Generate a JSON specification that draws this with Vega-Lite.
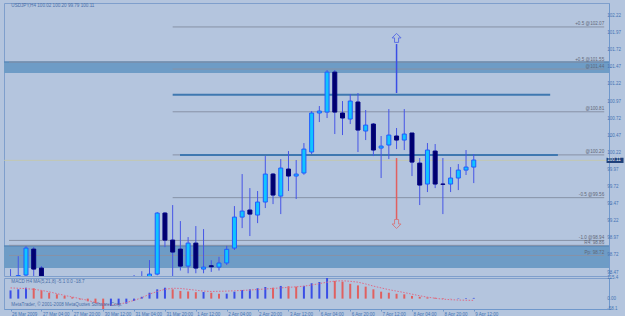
{
  "$schema": "https://vega.github.io/schema/vega-lite/v6.json",
  "background": "#b4c5de",
  "padding": {"left": 2, "top": 2, "right": 0, "bottom": 0},
  "spacing": 2,
  "bounds": "flush",
  "config": {
    "font": "Liberation Sans",
    "view": {"stroke": "#7f9fcc", "strokeWidth": 1},
    "axis": {"labelFont": "Liberation Sans", "labelFontSize": 4.5, "labelColor": "#4474b4", "domainColor": "#6f98cc", "tickColor": "#6f98cc", "grid": false, "title": null, "labelOverlap": false, "labelBound": false}
  },
  "datasets": {
    "candles": [
      {"i": 0, "o": 98.41, "h": 98.52, "l": 98.38, "c": 98.40},
      {"i": 1, "o": 98.42, "h": 98.71, "l": 98.39, "c": 98.425},
      {"i": 2, "o": 98.434, "h": 98.857, "l": 98.42, "c": 98.828},
      {"i": 3, "o": 98.813, "h": 98.842, "l": 98.40, "c": 98.521},
      {"i": 4, "o": 98.536, "h": 98.565, "l": 98.38, "c": 98.40},
      {"i": 16, "o": 98.30, "h": 98.434, "l": 98.2, "c": 98.32},
      {"i": 17, "o": 98.35, "h": 98.49, "l": 98.25, "c": 98.38},
      {"i": 18, "o": 98.38, "h": 98.653, "l": 98.33, "c": 98.448},
      {"i": 19, "o": 98.448, "h": 99.354, "l": 98.43, "c": 99.34},
      {"i": 20, "o": 99.34, "h": 99.354, "l": 98.842, "c": 98.945},
      {"i": 21, "o": 98.945, "h": 99.457, "l": 98.40, "c": 98.77},
      {"i": 22, "o": 98.813, "h": 99.223, "l": 98.50, "c": 98.565},
      {"i": 23, "o": 98.565, "h": 98.989, "l": 98.46, "c": 98.901},
      {"i": 24, "o": 98.901, "h": 99.15, "l": 98.46, "c": 98.536},
      {"i": 25, "o": 98.521, "h": 99.106, "l": 98.46, "c": 98.55},
      {"i": 26, "o": 98.57, "h": 98.65, "l": 98.48, "c": 98.555},
      {"i": 27, "o": 98.55, "h": 98.70, "l": 98.50, "c": 98.61},
      {"i": 28, "o": 98.61, "h": 98.86, "l": 98.58, "c": 98.81},
      {"i": 29, "o": 98.828, "h": 99.442, "l": 98.80, "c": 99.281},
      {"i": 30, "o": 99.281, "h": 99.91, "l": 99.12, "c": 99.369},
      {"i": 31, "o": 99.384, "h": 99.705, "l": 99.004, "c": 99.325},
      {"i": 32, "o": 99.311, "h": 99.662, "l": 99.193, "c": 99.501},
      {"i": 33, "o": 99.501, "h": 100.173, "l": 99.413, "c": 99.91},
      {"i": 34, "o": 99.91, "h": 99.925, "l": 99.471, "c": 99.603},
      {"i": 35, "o": 99.588, "h": 100.129, "l": 99.325, "c": 99.998},
      {"i": 36, "o": 99.983, "h": 100.246, "l": 99.662, "c": 99.881},
      {"i": 37, "o": 99.881, "h": 100.115, "l": 99.545, "c": 99.91},
      {"i": 38, "o": 99.925, "h": 100.363, "l": 99.90, "c": 100.275},
      {"i": 39, "o": 100.232, "h": 100.83, "l": 100.202, "c": 100.802},
      {"i": 40, "o": 100.802, "h": 100.904, "l": 100.67, "c": 100.831},
      {"i": 41, "o": 100.816, "h": 101.43, "l": 100.729, "c": 101.40},
      {"i": 42, "o": 101.40, "h": 101.43, "l": 100.495, "c": 100.816},
      {"i": 43, "o": 100.802, "h": 100.977, "l": 100.48, "c": 100.729},
      {"i": 44, "o": 100.714, "h": 101.08, "l": 100.641, "c": 100.977},
      {"i": 45, "o": 100.963, "h": 101.094, "l": 100.232, "c": 100.553},
      {"i": 46, "o": 100.539, "h": 100.846, "l": 100.407, "c": 100.626},
      {"i": 47, "o": 100.641, "h": 100.656, "l": 100.173, "c": 100.261},
      {"i": 48, "o": 100.29, "h": 100.466, "l": 99.852, "c": 100.319},
      {"i": 49, "o": 100.334, "h": 100.86, "l": 100.129, "c": 100.48},
      {"i": 50, "o": 100.466, "h": 100.583, "l": 100.275, "c": 100.407},
      {"i": 51, "o": 100.407, "h": 100.86, "l": 100.261, "c": 100.495},
      {"i": 52, "o": 100.51, "h": 100.51, "l": 99.881, "c": 100.085},
      {"i": 53, "o": 100.07, "h": 100.144, "l": 99.457, "c": 99.749},
      {"i": 54, "o": 99.764, "h": 100.363, "l": 99.647, "c": 100.261},
      {"i": 55, "o": 100.246, "h": 100.349, "l": 99.705, "c": 99.764},
      {"i": 56, "o": 99.764, "h": 100.144, "l": 99.325, "c": 99.76},
      {"i": 57, "o": 99.764, "h": 100.012, "l": 99.647, "c": 99.852},
      {"i": 58, "o": 99.852, "h": 100.056, "l": 99.676, "c": 99.968},
      {"i": 59, "o": 99.968, "h": 100.261, "l": 99.896, "c": 100.012},
      {"i": 60, "o": 100.012, "h": 100.202, "l": 99.778, "c": 100.115}
    ],
    "macd": [
      {"i": 0, "m": 46, "s": 60, "dir": "up"}, {"i": 1, "m": 52, "s": 58, "dir": "up"},
      {"i": 2, "m": 61, "s": 56, "dir": "up"}, {"i": 3, "m": 58, "s": 52, "dir": "down"},
      {"i": 4, "m": 46, "s": 46, "dir": "down"}, {"i": 5, "m": 33, "s": 38, "dir": "down"},
      {"i": 6, "m": 24, "s": 28, "dir": "down"}, {"i": 7, "m": 15, "s": 18, "dir": "down"},
      {"i": 8, "m": 8, "s": 9, "dir": "down"}, {"i": 9, "m": -5, "s": 0, "dir": "down"},
      {"i": 10, "m": -15, "s": -10, "dir": "down"}, {"i": 11, "m": -25, "s": -22, "dir": "down"},
      {"i": 12, "m": -58.1, "s": -33, "dir": "down"}, {"i": 13, "m": -41, "s": -36, "dir": "up"},
      {"i": 14, "m": -36, "s": -32, "dir": "up"}, {"i": 15, "m": -28, "s": -22, "dir": "up"},
      {"i": 16, "m": -13, "s": -10, "dir": "up"}, {"i": 17, "m": 10, "s": 5, "dir": "up"},
      {"i": 18, "m": 33, "s": 25, "dir": "up"}, {"i": 19, "m": 52, "s": 40, "dir": "up"},
      {"i": 20, "m": 61, "s": 52, "dir": "up"}, {"i": 21, "m": 52, "s": 58, "dir": "down"},
      {"i": 22, "m": 43, "s": 57, "dir": "down"}, {"i": 23, "m": 40, "s": 52, "dir": "down"},
      {"i": 24, "m": 36, "s": 47, "dir": "down"}, {"i": 25, "m": 37, "s": 42, "dir": "up"},
      {"i": 26, "m": 33, "s": 40, "dir": "down"}, {"i": 27, "m": 27, "s": 41, "dir": "down"},
      {"i": 28, "m": 28, "s": 42, "dir": "up"}, {"i": 29, "m": 39, "s": 44, "dir": "up"},
      {"i": 30, "m": 48, "s": 46, "dir": "up"}, {"i": 31, "m": 52, "s": 48, "dir": "up"},
      {"i": 32, "m": 58, "s": 51, "dir": "up"}, {"i": 33, "m": 65, "s": 54, "dir": "up"},
      {"i": 34, "m": 61, "s": 57, "dir": "down"}, {"i": 35, "m": 71, "s": 60, "dir": "up"},
      {"i": 36, "m": 69, "s": 63, "dir": "down"}, {"i": 37, "m": 67, "s": 66, "dir": "down"},
      {"i": 38, "m": 71, "s": 70, "dir": "up"}, {"i": 39, "m": 86, "s": 76, "dir": "up"},
      {"i": 40, "m": 93, "s": 84, "dir": "up"}, {"i": 41, "m": 115.4, "s": 92, "dir": "up"},
      {"i": 42, "m": 99, "s": 98, "dir": "down"}, {"i": 43, "m": 95, "s": 100, "dir": "down"},
      {"i": 44, "m": 83, "s": 97, "dir": "down"}, {"i": 45, "m": 74, "s": 92, "dir": "down"},
      {"i": 46, "m": 67, "s": 82, "dir": "down"}, {"i": 47, "m": 52, "s": 70, "dir": "down"},
      {"i": 48, "m": 39, "s": 60, "dir": "down"}, {"i": 49, "m": 33, "s": 50, "dir": "down"},
      {"i": 50, "m": 27, "s": 42, "dir": "down"}, {"i": 51, "m": 24, "s": 34, "dir": "down"},
      {"i": 52, "m": 15, "s": 25, "dir": "down"}, {"i": 53, "m": 10, "s": 16, "dir": "down"},
      {"i": 54, "m": 7, "s": 8, "dir": "down"}, {"i": 55, "m": 5, "s": 2, "dir": "down"},
      {"i": 56, "m": 3, "s": -3, "dir": "down"}, {"i": 57, "m": 1, "s": -6, "dir": "down"},
      {"i": 58, "m": 2, "s": -8, "dir": "up"}, {"i": 59, "m": 3, "s": -9, "dir": "up"},
      {"i": 60, "m": 4, "s": -10, "dir": "up"}
    ],
    "bands": [
      {"p1": 101.547, "p2": 101.386},
      {"p1": 98.857, "p2": 98.536}
    ],
    "fib": [
      {"p": 102.06, "s": 21, "e": 76.9, "t": "+0.5 @102.07"},
      {"p": 101.547, "s": -0.2, "e": 76.9, "t": "+0.5 @101.55"},
      {"p": 101.445, "s": 21, "e": 76.9, "t": "@101.44"},
      {"p": 100.82, "s": 21, "e": 76.9, "t": "@100.81"},
      {"p": 100.19, "s": 21, "e": 76.9, "t": "@100.20"},
      {"p": 99.565, "s": 21, "e": 76.9, "t": "-0.5 @99.56"},
      {"p": 98.94, "s": -0.2, "e": 76.9, "t": "-1.0 @98.94"},
      {"p": 98.868, "s": -0.2, "e": 76.9, "t": "R4: 98.86"},
      {"p": 98.72, "s": -0.2, "e": 76.9, "t": "Pp: 98.72"}
    ],
    "trend": [
      {"p": 101.07, "s": 21, "e": 69.9},
      {"p": 100.19, "s": 21.95, "e": 70.9}
    ],
    "arrows": [
      {"i": 50, "p1": 101.81, "p2": 101.094, "a": 101.9, "kind": "up"},
      {"i": 50, "p1": 100.144, "p2": 99.253, "a": 99.18, "kind": "down"}
    ],
    "yticks": [
      {"v": 98.47}, {"v": 98.72}, {"v": 98.97}, {"v": 99.22}, {"v": 99.47}, {"v": 99.72}, {"v": 99.97}, {"v": 100.22},
      {"v": 100.47}, {"v": 100.72}, {"v": 100.97}, {"v": 101.22}, {"v": 101.47}, {"v": 101.72}, {"v": 101.97}, {"v": 102.22}
    ],
    "mticks": [
      {"v": 115.4, "t": "115.4", "b": "top"},
      {"v": 0, "t": "0.00", "b": "middle"},
      {"v": -58.1, "t": "-58.1", "b": "bottom"}
    ]
  },
  "vconcat": [
    {
      "width": 605,
      "height": 273,
      "layer": [
        {
          "data": {"name": "bands"},
          "mark": {"type": "rect", "color": "#6e9cc6"},
          "encoding": {
            "y": {"field": "p1", "type": "quantitative", "title": null,
              "scale": {"domain": [98.42, 102.41], "nice": false, "zero": false},
              "axis": {"orient": "right", "values": [98.47, 98.72, 98.97, 99.22, 99.47, 99.72, 99.97, 100.22, 100.47, 100.72, 100.97, 101.22, 101.47, 101.72, 101.97, 102.22], "labels": false, "tickSize": 2}},
            "y2": {"field": "p2"}
          }
        },
        {
          "data": {"name": "bands"},
          "mark": {"type": "rule", "color": "#5b8ab8", "strokeWidth": 1.5},
          "encoding": {"y": {"field": "p1", "type": "quantitative", "title": null}}
        },
        {
          "data": {"name": "fib"},
          "mark": {"type": "rule", "color": "#8792a6", "strokeWidth": 1},
          "encoding": {
            "x": {"field": "s", "type": "quantitative", "title": null, "scale": {"domain": [-0.2, 76.87], "nice": false, "zero": false}, "axis": null},
            "x2": {"field": "e"},
            "y": {"field": "p", "type": "quantitative", "title": null}
          }
        },
        {
          "data": {"name": "trend"},
          "mark": {"type": "rule", "color": "#3f78b0", "strokeWidth": 2},
          "encoding": {
            "x": {"field": "s", "type": "quantitative", "title": null},
            "x2": {"field": "e"},
            "y": {"field": "p", "type": "quantitative", "title": null}
          }
        },
        {
          "data": {"values": [{"p": 100.11}]},
          "mark": {"type": "rule", "color": "#c6c8a6", "strokeWidth": 0.8},
          "encoding": {"y": {"field": "p", "type": "quantitative", "title": null}}
        },
        {
          "data": {"name": "fib"},
          "mark": {"type": "text", "align": "right", "baseline": "bottom", "dy": -0.5, "fontSize": 4.6, "color": "#5f6778"},
          "encoding": {
            "x": {"field": "e", "type": "quantitative", "title": null},
            "y": {"field": "p", "type": "quantitative", "title": null},
            "text": {"field": "t"}
          }
        },
        {
          "data": {"name": "candles"},
          "mark": {"type": "rule", "clip": true, "strokeWidth": 1, "color": "#4655e6"},
          "encoding": {
            "x": {"field": "i", "type": "quantitative", "title": null},
            "y": {"field": "l", "type": "quantitative", "title": null},
            "y2": {"field": "h"}
          }
        },
        {
          "data": {"name": "candles"},
          "mark": {"type": "bar", "orient": "vertical", "clip": true, "size": 4, "strokeWidth": 1},
          "encoding": {
            "x": {"field": "i", "type": "quantitative", "title": null},
            "y": {"field": "o", "type": "quantitative", "title": null},
            "y2": {"field": "c"},
            "fill": {"condition": {"test": "datum.c >= datum.o", "value": "#11c4ff"}, "value": "#00006e"},
            "stroke": {"condition": {"test": "datum.c >= datum.o", "value": "#1f5cff"}, "value": "#000080"}
          }
        },
        {
          "data": {"name": "arrows"},
          "mark": {"type": "rule", "strokeWidth": 1.5},
          "encoding": {
            "x": {"field": "i", "type": "quantitative", "title": null},
            "y": {"field": "p1", "type": "quantitative", "title": null},
            "y2": {"field": "p2"},
            "color": {"field": "kind", "type": "nominal", "scale": {"domain": ["up", "down"], "range": ["#3a4ee6", "#e06060"]}, "legend": null}
          }
        },
        {
          "data": {"name": "arrows"},
          "mark": {"type": "point", "filled": false, "strokeWidth": 1},
          "encoding": {
            "x": {"field": "i", "type": "quantitative", "title": null},
            "y": {"field": "a", "type": "quantitative", "title": null},
            "shape": {"field": "kind", "type": "nominal", "scale": {"domain": ["up", "down"], "range": ["M-0.45,1L-0.45,0L-1,0L0,-1L1,0L0.45,0L0.45,1Z", "M-0.45,-1L-0.45,0L-1,0L0,1L1,0L0.45,0L0.45,-1Z"]}, "legend": null},
            "color": {"field": "kind", "type": "nominal", "legend": null},
            "size": {"value": 81}
          }
        },
        {
          "data": {"name": "yticks"},
          "mark": {"type": "text", "align": "left", "baseline": "middle", "fontSize": 4.5, "color": "#4474b4"},
          "encoding": {
            "x": {"datum": 77.3, "type": "quantitative"},
            "y": {"field": "v", "type": "quantitative", "title": null},
            "text": {"field": "v", "format": ".2f"}
          }
        },
        {
          "data": {"values": [{"p": 100.11}]},
          "mark": {"type": "rect", "color": "#1d3f7a"},
          "encoding": {
            "x": {"datum": 77.2, "type": "quantitative"},
            "x2": {"datum": 79.4},
            "y": {"datum": 100.148, "type": "quantitative"},
            "y2": {"datum": 100.072}
          }
        },
        {
          "data": {"values": [{"p": 100.11}]},
          "mark": {"type": "text", "align": "left", "baseline": "middle", "fontSize": 4.5, "color": "#e8eef8"},
          "encoding": {
            "x": {"datum": 77.3, "type": "quantitative"},
            "y": {"field": "p", "type": "quantitative", "title": null},
            "text": {"field": "p", "format": ".2f"}
          }
        },
        {
          "data": {"values": [{"t": "USDJPY,H4  100.02 100.20 99.79 100.11"}]},
          "mark": {"type": "text", "align": "left", "baseline": "middle", "fontSize": 4.6, "color": "#4a6fa8"},
          "encoding": {
            "x": {"datum": 0.1, "type": "quantitative"},
            "y": {"datum": 102.365, "type": "quantitative"},
            "text": {"field": "t"}
          }
        }
      ]
    },
    {
      "width": 605,
      "height": 31,
      "layer": [
        {
          "data": {"name": "macd"},
          "mark": {"type": "bar", "orient": "vertical", "size": 2},
          "encoding": {
            "x": {"field": "i", "type": "quantitative", "title": null,
              "scale": {"domain": [-0.2, 76.87], "nice": false, "zero": false},
              "axis": {"values": [0, 4, 8, 12, 16, 20, 24, 28, 32, 36, 40, 44, 48, 52, 56, 60],
                "labelExpr": "['26 Mar 2009','27 Mar 04:00','27 Mar 20:00','30 Mar 12:00','31 Mar 04:00','31 Mar 20:00','1 Apr 12:00','2 Apr 04:00','2 Apr 20:00','3 Apr 12:00','6 Apr 04:00','6 Apr 20:00','7 Apr 12:00','8 Apr 04:00','8 Apr 20:00','9 Apr 12:00'][round(datum.value/4)]",
                "labelAlign": "left", "labelOffset": 1, "labelPadding": 0, "tickSize": 2, "labelFlush": false, "labelOverlap": false}},
            "y": {"field": "m", "type": "quantitative", "title": null,
              "scale": {"domain": [-58.1, 115.4], "nice": false, "zero": false},
              "axis": {"orient": "right", "values": [115.4, 0, -58.1], "labels": false, "tickSize": 2}},
            "y2": {"datum": 0},
            "color": {"field": "dir", "type": "nominal", "scale": {"domain": ["up", "down"], "range": ["#1f4d96", "#ef5d2c"]}, "legend": null}
          }
        },
        {
          "data": {"name": "macd"},
          "mark": {"type": "line", "color": "#e06a86", "strokeWidth": 1, "strokeDash": [1.5, 1.5]},
          "encoding": {
            "x": {"field": "i", "type": "quantitative", "title": null},
            "y": {"field": "s", "type": "quantitative", "title": null}
          }
        },
        {
          "data": {"name": "mticks"},
          "mark": {"type": "text", "align": "left", "fontSize": 4.5, "color": "#4474b4"},
          "encoding": {
            "x": {"datum": 77.3, "type": "quantitative"},
            "y": {"field": "v", "type": "quantitative", "title": null},
            "text": {"field": "t"},
            "baseline": {"field": "b", "type": "nominal", "scale": null}
          }
        },
        {
          "data": {"values": [{"t": "MACD H4 MA(5,21,8) -5.1 0.0 -18.7"}]},
          "mark": {"type": "text", "align": "left", "baseline": "middle", "fontSize": 4.6, "color": "#4a6fa8"},
          "encoding": {
            "x": {"datum": 0.1, "type": "quantitative"},
            "y": {"datum": 93, "type": "quantitative"},
            "text": {"field": "t"}
          }
        },
        {
          "data": {"values": [{"t": "MetaTrader, © 2001-2008 MetaQuotes Software Corp."}]},
          "mark": {"type": "text", "align": "left", "baseline": "middle", "fontSize": 4.6, "color": "#4a6fa8"},
          "encoding": {
            "x": {"datum": 0.1, "type": "quantitative"},
            "y": {"datum": -36, "type": "quantitative"},
            "text": {"field": "t"}
          }
        }
      ]
    }
  ]
}
